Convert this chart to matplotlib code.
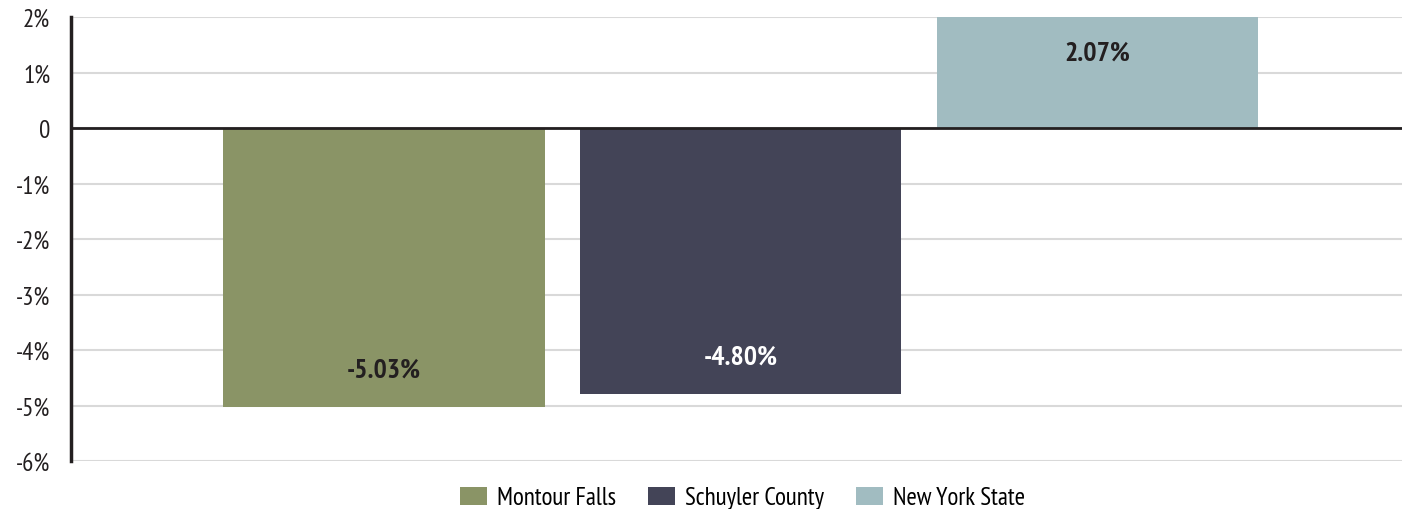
import numpy as np
import matplotlib
matplotlib.use("Agg")
import matplotlib.pyplot as plt
from matplotlib.patches import Patch
from matplotlib import font_manager as fm

# condensed face close to the original; fall back if missing
have = set(f.name for f in fm.fontManager.ttflist)
narrow = [n for n in ['PT Sans Narrow', 'Roboto Condensed', 'Archivo Narrow',
                      'Barlow Semi Condensed', 'Liberation Sans Narrow'] if n in have]
plt.rcParams['font.family'] = narrow[:1] + ['DejaVu Sans']

series = ['Montour Falls', 'Schuyler County', 'New York State']
values = [-5.03, -4.80, 2.07]
colors = ['#8A9466', '#434457', '#A1BCC1']
label_colors = ['#231f20', 'white', '#231f20']
yticks = [2, 1, 0, -1, -2, -3, -4, -5, -6]
ytick_labels = ['2%', '1%', '0', '-1%', '-2%', '-3%', '-4%', '-5%', '-6%']

fig = plt.figure(figsize=(14.02, 5.10), dpi=100)
ax = fig.add_axes([71 / 1402, 1 - 462 / 510, 1 - 71 / 1402, (462 - 18) / 510])

x = np.arange(len(series))
bars = ax.bar(x, values, width=0.9, color=colors, zorder=2)

ax.set_xlim(-0.877, 2.853)
ax.set_ylim(-6, 2)
ax.set_yticks(yticks)
ax.set_yticklabels(ytick_labels, fontsize=18, color='#231f20')
ax.set_xticks([])
ax.yaxis.grid(True, color='#d9d9d9', linewidth=1.5, zorder=0)
ax.tick_params(axis='y', length=0, pad=15)
ax.axhline(0, color='#231f20', linewidth=2, zorder=3)

for s in ['top', 'right', 'bottom']:
    ax.spines[s].set_visible(False)
ax.spines['left'].set_color('#231f20')
ax.spines['left'].set_linewidth(2.5)

for b, v, c in zip(bars, values, label_colors):
    off = -39 if v > 0 else 38
    ax.annotate(f'{v:.2f}%', (b.get_x() + b.get_width() / 2, v),
                xytext=(0, off), textcoords='offset pixels',
                ha='center', va='center', fontsize=20, fontweight='bold',
                color=c, zorder=4, annotation_clip=False)

handles = [Patch(facecolor=c, label=s) for s, c in zip(series, colors)]
fig.legend(handles=handles, loc='lower center', bbox_to_anchor=(0.5296, -0.045),
           ncol=3, frameon=False, fontsize=18, handlelength=1.08, handleheight=0.75,
           columnspacing=1.28, handletextpad=0.4)

fig.savefig('out.png', dpi=100)
